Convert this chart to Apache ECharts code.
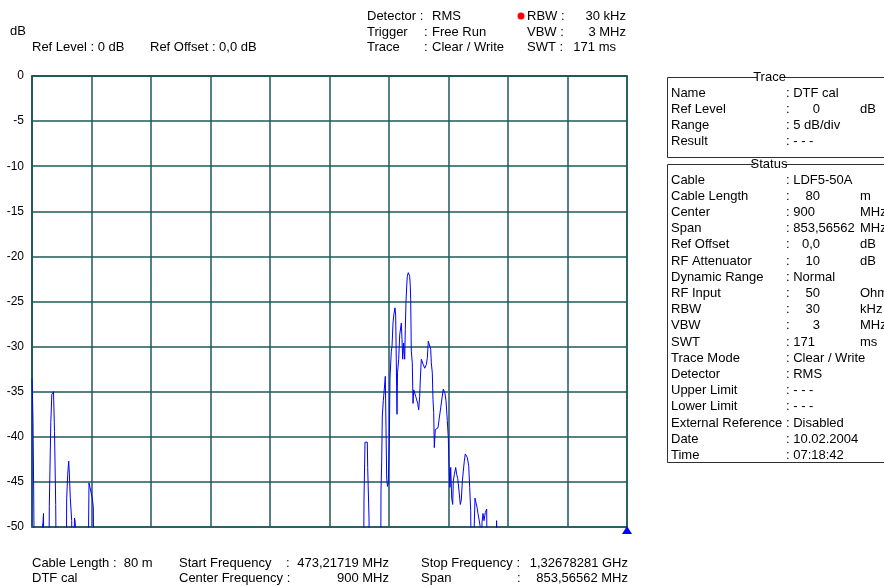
<!DOCTYPE html>
<html><head><meta charset="utf-8">
<script src="https://cdn.jsdelivr.net/npm/echarts/dist/echarts.min.js"></script>
<style>html,body{margin:0;padding:0;background:#fff;}#c{width:884px;height:586px;}</style>
</head><body><div id="c"></div>
<script>
// Trace sample positions (0..595 across the 10 divisions) and levels in dB (values below -50 are off-screen)
const traceX = [
  0,0.4,1,1.7,2.6, 10,10.5,11,11.5,12.2, 16.6,17.3,18.8,19.8,21.5,22.5,23.7,24.7,
  34,34.7,35.7,36.7,37.3,38.3,39.7,40.5, 42,42.5,43.3,44, 55.7,57,59,60.3,61.3,62.3,
  331.3,332,333,335.3,335.7,337,338,
  348.5,349,349.7,350.3,351.3,352.3,353.3,354,354.7,355.5,356.3,357.3,358,358.7,359.3,360,361,362,363,363.7,364.3,365,365.5,
  366.7,367.7,368.7,369.3,370,370.7,371.7,372.7,373.3,374,374.7,375.3,376.3,377,377.7,378.3,378.7,379.3,380.3,381,381.7,
  382.7,383.7,384.7,385.7,386.7,387.7,388.3,389.3,390.3,391.3,392.7,394.3,395.3,396.3,397.7,398.7,399.3,400.3,401,401.7,
  402.3,403.3,404.7,406,407.3,408.7,410,411.3,412,413,414,415.3,416.3,417,418,418.7,419.7,420.7,421.3,422.3,423.7,424.7,
  425.7,426.3,427.3,428.3,429.3,430.3,431.3,432.3,433.3,434.3,435.3,436.7,437.7,438.7,439.7,441.3,443,444,445,446,446.7,
  448,449,450,451,452,453.3,454.7,455.3,464,464.6,465.2,595
];
const traceDb = [
  -33.6,-35,-38.4,-46,-60, -60,-49.8,-49.5,-48.5,-60, -60,-47.7,-38.4,-35.3,-35,-39.4,-47.5,-60,
  -60,-46.8,-44.2,-42.7,-44,-46.8,-49.3,-60, -60,-49,-49.5,-60, -60,-45.1,-44.9,-46.8,-47.8,-60,
  -60,-46.9,-40.6,-40.6,-43.4,-49,-60,
  -60,-46,-42.7,-37.7,-36,-34.7,-33.3,-39,-44.7,-45.5,-45.1,-40.5,-33.5,-33.3,-30.5,-30,-27.4,-26.3,-25.7,-26.6,-31.8,-37.5,-32.9,
  -31.4,-28.7,-28.8,-27.4,-29.2,-31.4,-29.6,-31.4,-28.1,-25,-23.3,-22.2,-21.8,-21.7,-22.2,-23.3,-24.8,-30.5,-31.8,-36.3,-34.8,
  -35,-35.5,-35.5,-36.3,-37,-35.5,-33.7,-31.4,-31.3,-32,-32.4,-32,-31.3,-29.4,-29.3,-30.3,-31.8,-32.9,-35.9,-37.3,
  -41.2,-39.2,-39.3,-39,-37.9,-36.8,-35.7,-34.7,-34.5,-35.2,-36,-38.2,-40.1,-43.1,-45.6,-43.4,-46.8,-47.5,-44.9,-44.2,-43.4,-44.2,
  -44.6,-45.2,-45,-47.5,-47,-45,-43.8,-42.7,-41.9,-41.8,-42.3,-43.2,-45.6,-48.2,-60,-60,-46.8,-47,-47.8,-48.5,-48.3,
  -49.8,-60,-49.5,-48.5,-49.3,-48.4,-48,-60,-60,-49.3,-60,-60
];
const yTicks = { min: -50, max: 0, step: 5 };
const xSpan = { min: 0, max: 595, step: 59.5 };

const traceLabels = ['Name','Ref Level','Range','Result'];
const traceValues = [': DTF cal',':',': 5 dB/div',': - - -'];
const traceNums = ['', '0', '', ''];
const traceUnits = ['', 'dB', '', ''];
const statusLabels = ['Cable','Cable Length','Center','Span','Ref Offset','RF Attenuator','Dynamic Range','RF Input','RBW','VBW','SWT','Trace Mode','Detector','Upper Limit','Lower Limit','External Reference','Date','Time'];
const statusValues = [': LDF5-50A',':',': 900',': 853,56562',':',':',': Normal',':',':',':',': 171',': Clear / Write',': RMS',': - - -',': - - -',': Disabled',': 10.02.2004',': 07:18:42'];
const statusNums = ['', '80', '', '', '0,0', '10', '', '50', '30', '3', '', '', '', '', '', '', '', ''];
const statusUnits = ['', 'm', 'MHz', 'MHz', 'dB', 'dB', '', 'Ohm', 'kHz', 'MHz', 'ms', '', '', '', '', '', '', ''];

const FONT = '13px "Liberation Sans", Arial, sans-serif';
function txt(x, y, text, align, color) {
  return { type: 'text', silent: true, z: 10, style: { x: x, y: y, text: text, font: FONT, fill: color || '#000', textAlign: align || 'left', textVerticalAlign: 'middle' } };
}
function seg(x1, y1, x2, y2) {
  return { type: 'line', silent: true, z: 4, shape: { x1: x1, y1: y1, x2: x2, y2: y2 }, style: { stroke: '#303030', lineWidth: 1 } };
}
const g = [];
// header
g.push(txt(10, 31, 'dB'));
g.push(txt(32, 47, 'Ref Level : 0 dB'));
g.push(txt(150, 47, 'Ref Offset : 0,0 dB'));
g.push(txt(367, 16, 'Detector :'));
g.push(txt(367, 32, 'Trigger'));
g.push(txt(424, 32, ':'));
g.push(txt(367, 47, 'Trace'));
g.push(txt(424, 47, ':'));
g.push(txt(432, 16, 'RMS'));
g.push(txt(432, 32, 'Free Run'));
g.push(txt(432, 47, 'Clear / Write'));
g.push({ type: 'circle', silent: true, shape: { cx: 521, cy: 16, r: 3.5 }, style: { fill: '#ff0000' } });
g.push(txt(527, 16, 'RBW :'));
g.push(txt(527, 32, 'VBW :'));
g.push(txt(527, 47, 'SWT :'));
g.push(txt(626, 16, '30 kHz', 'right'));
g.push(txt(626, 32, '3 MHz', 'right'));
g.push(txt(616, 47, '171 ms', 'right'));
// footer
g.push(txt(32, 563, 'Cable Length :  80 m'));
g.push(txt(32, 578, 'DTF cal'));
g.push(txt(179, 563, 'Start Frequency'));
g.push(txt(286, 563, ':'));
g.push(txt(389, 563, '473,21719 MHz', 'right'));
g.push(txt(179, 578, 'Center Frequency :'));
g.push(txt(389, 578, '900 MHz', 'right'));
g.push(txt(421, 563, 'Stop Frequency :'));
g.push(txt(628, 563, '1,32678281 GHz', 'right'));
g.push(txt(421, 578, 'Span'));
g.push(txt(517, 578, ':'));
g.push(txt(628, 578, '853,56562 MHz', 'right'));
// group boxes
function box(top, bottom, title, tl, tr) {
  g.push(seg(667.5, top + 0.5, tl, top + 0.5));
  g.push(seg(tr, top + 0.5, 884, top + 0.5));
  g.push(seg(667.5, top + 0.5, 667.5, bottom + 0.5));
  g.push(seg(667.5, bottom + 0.5, 884, bottom + 0.5));
  g.push(txt((tl + tr) / 2, top, title, 'center'));
}
box(77, 157, 'Trace', 757, 782);
box(164, 462, 'Status', 755, 783);
function rows(labels, values, nums, units, y0, dy) {
  labels.forEach((l, i) => {
    const y = y0 + i * dy;
    g.push(txt(671, y, l));
    g.push(txt(786, y, values[i]));
    if (nums[i]) g.push(txt(820, y, nums[i], 'right'));
    if (units[i]) g.push(txt(860, y, units[i]));
  });
}
rows(traceLabels, traceValues, traceNums, traceUnits, 93, 16);
rows(statusLabels, statusValues, statusNums, statusUnits, 180, 16.2);

const gridColor = '#1f5858';
const chart = echarts.init(document.getElementById('c'), null, { renderer: 'canvas' });
chart.setOption({
  animation: false,
  backgroundColor: '#fff',
  grid: { left: 32, top: 76, width: 595, height: 451, show: true, borderColor: gridColor, borderWidth: 1.5, backgroundColor: '#fff' },
  xAxis: {
    type: 'value', min: xSpan.min, max: xSpan.max, interval: xSpan.step,
    axisLine: { show: true, lineStyle: { color: gridColor, width: 1.5 } },
    axisTick: { show: false }, axisLabel: { show: false },
    splitLine: { show: true, lineStyle: { color: gridColor, width: 1.5 } }
  },
  yAxis: {
    type: 'value', min: yTicks.min, max: yTicks.max, interval: yTicks.step,
    axisLine: { show: true, lineStyle: { color: gridColor, width: 1.5 } },
    axisTick: { show: false },
    axisLabel: { color: '#000', fontFamily: '"Liberation Sans", Arial, sans-serif', fontSize: 12, margin: 8 },
    splitLine: { show: true, lineStyle: { color: gridColor, width: 1.5 } }
  },
  series: [{
    type: 'line',
    data: traceX.map((x, i) => [x, traceDb[i]]),
    showSymbol: false, symbol: 'none', clip: true,
    lineStyle: { color: '#0000ff', width: 1 },
    markPoint: {
      symbol: 'triangle', symbolSize: [10, 8], symbolOffset: [0, 3],
      itemStyle: { color: '#0000ff' }, label: { show: false },
      data: [{ coord: [xSpan.max, yTicks.min] }]
    },
    z: 3
  }],
  graphic: g
});
</script>
</body></html>
